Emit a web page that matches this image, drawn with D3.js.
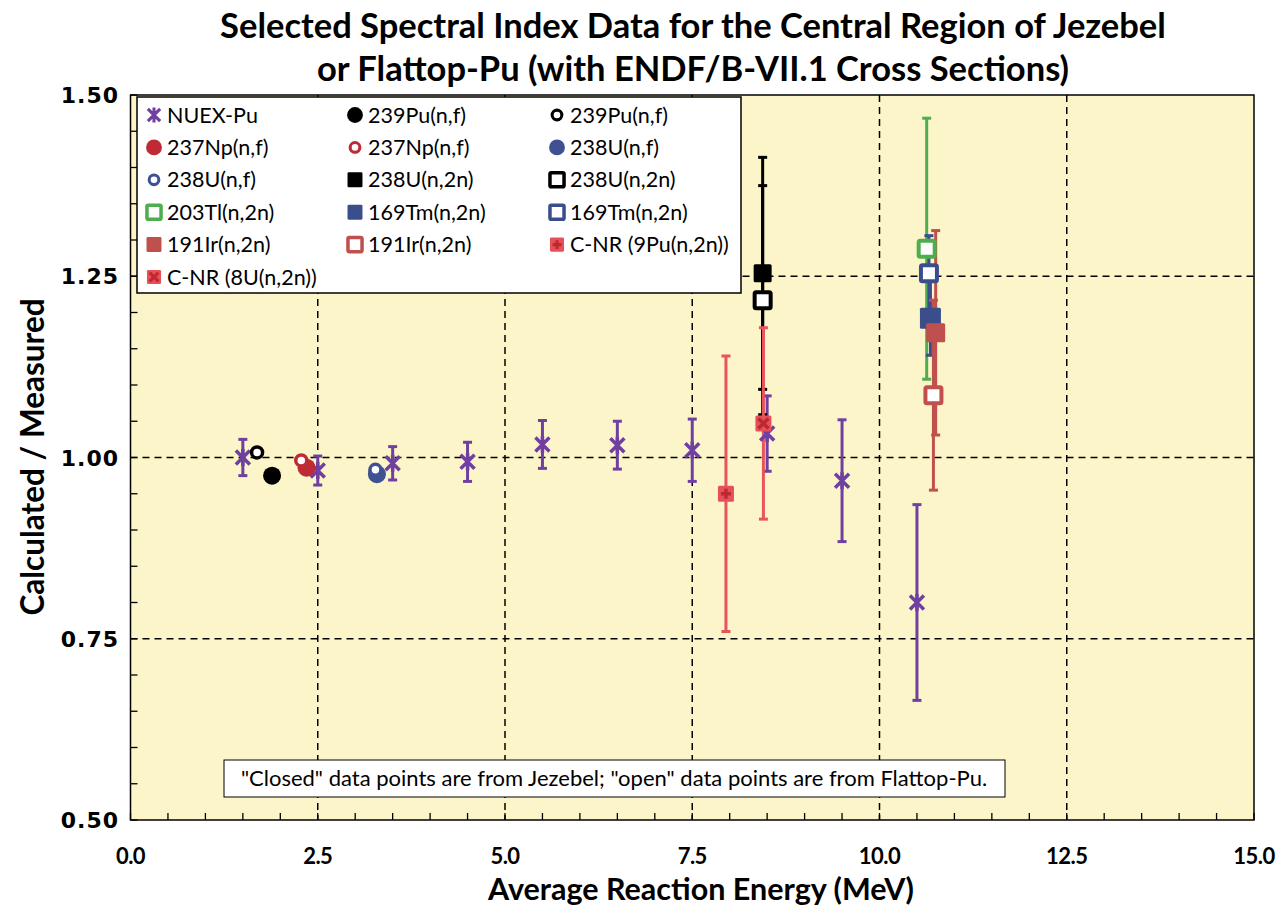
<!DOCTYPE html>
<html>
<head>
<meta charset="utf-8">
<script src="https://cdn.jsdelivr.net/npm/d3@7"></script>
<style>
	body { margin: 0; background: #fff; }
	svg { display: block; }
</style>
</head>
<body>
<svg id="chart"></svg>
<script>
/* global d3 */

// NUEX-Pu series (purple asterisks with error bars).
const nuexEnergy = [ 1.5, 2.5, 3.5, 4.5, 5.5, 6.5, 7.5, 8.5, 9.5, 10.5 ];
const nuexRatio = [ 1.000, 0.982, 0.992, 0.994, 1.018, 1.017, 1.010, 1.033, 0.968, 0.800 ];
const nuexError = [ 0.025, 0.020, 0.023, 0.027, 0.033, 0.033, 0.043, 0.052, 0.084, 0.135 ];

// Single-point series, in legend order (after NUEX-Pu).
const pointLabels = [
	'239Pu(n,f)', '239Pu(n,f)', '237Np(n,f)', '237Np(n,f)', '238U(n,f)',
	'238U(n,f)', '238U(n,2n)', '238U(n,2n)', '203Tl(n,2n)', '169Tm(n,2n)',
	'169Tm(n,2n)', '191Ir(n,2n)', '191Ir(n,2n)', 'C-NR (9Pu(n,2n))', 'C-NR (8U(n,2n))',
];
const pointEnergy = [ 1.89, 1.69, 2.35, 2.28, 3.29, 3.27, 8.44, 8.44, 10.63, 10.68, 10.66, 10.75, 10.72, 7.95, 8.45 ];
const pointRatio = [ 0.975, 1.007, 0.986, 0.996, 0.977, 0.983, 1.254, 1.217, 1.288, 1.192, 1.254, 1.172, 1.086, 0.950, 1.047 ];
const pointError = [ 0, 0, 0, 0, 0, 0, 0.160, 0.158, 0.180, 0.051, 0.052, 0.141, 0.131, 0.190, 0.132 ];

const xTicks = [ 0, 2.5, 5, 7.5, 10, 12.5, 15 ];
const yTicks = [ 0.5, 0.75, 1.0, 1.25, 1.5 ];

const titleLines = [
	'Selected Spectral Index Data for the Central Region of Jezebel',
	'or Flattop-Pu (with ENDF/B-VII.1 Cross Sections)',
];
const noteText = '"Closed" data points are from Jezebel; "open" data points are from Flattop-Pu.';

// Marker styles, matched by index to the point arrays.
const pointStyles = [
	{ shape: 'circle', color: '#000000' },
	{ shape: 'ring', color: '#000000' },
	{ shape: 'circle', color: '#be2b34' },
	{ shape: 'ring', color: '#be2b34' },
	{ shape: 'circle', color: '#3f5193' },
	{ shape: 'ring', color: '#3f5193' },
	{ shape: 'square', color: '#000000', size: 18 },
	{ shape: 'openSquare', color: '#000000' },
	{ shape: 'openSquare', color: '#4cae4c' },
	{ shape: 'square', color: '#3b4e8c', size: 21 },
	{ shape: 'openSquare', color: '#3b4e8c' },
	{ shape: 'square', color: '#c0504d', size: 19 },
	{ shape: 'openSquare', color: '#c0504d' },
	{ shape: 'plusSquare', color: '#e5505a', mark: '#c0282f', bar: '#e8545c' },
	{ shape: 'crossSquare', color: '#e5505a', mark: '#c0282f', bar: '#e8545c' },
];
const nuexColor = '#7040a0';

/**
 * Spectral index scatter chart
 */
class SpectralIndexChart {
	/**
	 * @param {string} selector - SVG selector
	 */
	constructor( selector ) {
		this.selector = selector;
		this.config = {
			width: 1281,
			height: 909,
			plot: { left: 130.5, right: 1254, top: 95, bottom: 820 },
		};

		this.initializeChart();
	}

	/**
	 * Initialize the chart
	 */
	initializeChart() {
		const { width, height, plot } = this.config;

		this.svg = d3.select( this.selector )
			.attr( 'width', width )
			.attr( 'height', height );

		this.xScale = d3.scaleLinear().domain( [ 0, 15 ] ).range( [ plot.left, plot.right ] );
		this.yScale = d3.scaleLinear().domain( [ 0.5, 1.5 ] ).range( [ plot.bottom, plot.top ] );

		this.renderFrame();
		this.renderData();
		this.renderLegend();
		this.renderText();
	}

	/**
	 * Background, grid, ticks and tick labels
	 */
	renderFrame() {
		const { plot } = this.config;
		const x = this.xScale;
		const y = this.yScale;

		this.svg.append( 'rect' )
			.attr( 'x', plot.left )
			.attr( 'y', plot.top )
			.attr( 'width', plot.right - plot.left )
			.attr( 'height', plot.bottom - plot.top )
			.attr( 'fill', '#fcf5c9' );

		const grid = this.svg.append( 'g' )
			.attr( 'stroke', '#000' )
			.attr( 'stroke-width', 1.5 )
			.attr( 'stroke-dasharray', '7,5' );

		grid.selectAll( 'line.vgrid' )
			.data( xTicks.slice( 1, -1 ) )
			.enter()
			.append( 'line' )
			.attr( 'x1', ( d ) => x( d ) )
			.attr( 'x2', ( d ) => x( d ) )
			.attr( 'y1', plot.top )
			.attr( 'y2', plot.bottom );

		grid.selectAll( 'line.hgrid' )
			.data( yTicks.slice( 1, -1 ) )
			.enter()
			.append( 'line' )
			.attr( 'y1', ( d ) => y( d ) )
			.attr( 'y2', ( d ) => y( d ) )
			.attr( 'x1', plot.left )
			.attr( 'x2', plot.right );

		// minor ticks point inward
		const xMinor = d3.range( 0, 15.001, 0.5 );
		const yMinor = d3.range( 0.5, 1.5001, 0.05 );

		const ticks = this.svg.append( 'g' )
			.attr( 'stroke', '#000' )
			.attr( 'stroke-width', 1.3 );

		ticks.selectAll( 'line.xt' )
			.data( xMinor )
			.enter()
			.append( 'line' )
			.attr( 'x1', ( d ) => x( d ) )
			.attr( 'x2', ( d ) => x( d ) )
			.attr( 'y1', plot.bottom )
			.attr( 'y2', plot.bottom - 7 );

		ticks.selectAll( 'line.yt' )
			.data( yMinor )
			.enter()
			.append( 'line' )
			.attr( 'y1', ( d ) => y( d ) )
			.attr( 'y2', ( d ) => y( d ) )
			.attr( 'x1', plot.left )
			.attr( 'x2', plot.left + 7 );

		this.svg.append( 'rect' )
			.attr( 'x', plot.left )
			.attr( 'y', plot.top )
			.attr( 'width', plot.right - plot.left )
			.attr( 'height', plot.bottom - plot.top )
			.attr( 'fill', 'none' )
			.attr( 'stroke', '#000' )
			.attr( 'stroke-width', 1.5 );

		this.svg.append( 'g' )
			.selectAll( 'text' )
			.data( xTicks )
			.enter()
			.append( 'text' )
			.attr( 'x', ( d ) => x( d ) )
			.attr( 'y', 864 )
			.attr( 'text-anchor', 'middle' )
			.style( 'font', 'bold 22px Lato, sans-serif' )
			.style( 'letter-spacing', '-0.5px' )
			.text( d3.format( '.1f' ) );

		this.svg.append( 'g' )
			.selectAll( 'text' )
			.data( yTicks )
			.enter()
			.append( 'text' )
			.attr( 'x', 119 )
			.attr( 'y', ( d ) => y( d ) + 8 )
			.attr( 'text-anchor', 'end' )
			.style( 'font', 'bold 22px "DejaVu Sans", sans-serif' )
			.style( 'letter-spacing', '1px' )
			.text( d3.format( '.2f' ) );
	}

	/**
	 * Draw one marker
	 *
	 * @param {Object} g     - D3 selection to append into
	 * @param {Object} style - Marker style
	 * @param {number} cx    - Centre x
	 * @param {number} cy    - Centre y
	 * @param {number} k     - Scale factor
	 */
	drawMarker( g, style, cx, cy, k = 1 ) {
		const m = g.append( 'g' ).attr( 'transform', `translate(${ cx },${ cy }) scale(${ k })` );

		if ( style.shape === 'star' ) {
			m.append( 'path' )
				.attr( 'd', 'M-7,-7L7,7M-7,7L7,-7M0,-8.5L0,8.5' )
				.attr( 'stroke', style.color )
				.attr( 'stroke-width', 3.5 )
				.attr( 'fill', 'none' );
		} else if ( style.shape === 'circle' ) {
			m.append( 'circle' ).attr( 'r', 9 ).attr( 'fill', style.color );
		} else if ( style.shape === 'ring' ) {
			m.append( 'circle' )
				.attr( 'r', 5.5 )
				.attr( 'fill', '#fff' )
				.attr( 'stroke', style.color )
				.attr( 'stroke-width', 3.5 );
		} else if ( style.shape === 'square' ) {
			const s = style.size || 18;
			m.append( 'rect' )
				.attr( 'x', -s / 2 ).attr( 'y', -s / 2 )
				.attr( 'width', s ).attr( 'height', s )
				.attr( 'rx', 1.5 )
				.attr( 'fill', style.color );
		} else if ( style.shape === 'openSquare' ) {
			m.append( 'rect' )
				.attr( 'x', -8 ).attr( 'y', -8 )
				.attr( 'width', 16 ).attr( 'height', 16 )
				.attr( 'rx', 1.5 )
				.attr( 'fill', '#fff' )
				.attr( 'stroke', style.color )
				.attr( 'stroke-width', 4 );
		} else {
			m.append( 'rect' )
				.attr( 'x', -8 ).attr( 'y', -8 )
				.attr( 'width', 16 ).attr( 'height', 16 )
				.attr( 'rx', 1.5 )
				.attr( 'fill', style.color );
			m.append( 'path' )
				.attr( 'd', style.shape === 'plusSquare' ? 'M-5,0L5,0M0,-5L0,5' : 'M-5,-5L5,5M-5,5L5,-5' )
				.attr( 'stroke', style.mark )
				.attr( 'stroke-width', 3.5 )
				.attr( 'fill', 'none' );
		}
	}

	/**
	 * Draw an error bar with caps
	 *
	 * @param {Object} g     - D3 selection
	 * @param {number} e     - Energy
	 * @param {number} v     - Ratio
	 * @param {number} err   - Error half-width
	 * @param {string} color - Stroke colour
	 */
	drawErrorBar( g, e, v, err, color ) {
		const x = this.xScale( e );
		const y1 = this.yScale( v + err );
		const y2 = this.yScale( v - err );
		const bar = g.append( 'g' ).attr( 'stroke', color ).attr( 'stroke-width', 3 );
		bar.append( 'line' ).attr( 'x1', x ).attr( 'x2', x ).attr( 'y1', y1 ).attr( 'y2', y2 );
		bar.append( 'line' ).attr( 'x1', x - 4.5 ).attr( 'x2', x + 4.5 ).attr( 'y1', y1 ).attr( 'y2', y1 );
		bar.append( 'line' ).attr( 'x1', x - 4.5 ).attr( 'x2', x + 4.5 ).attr( 'y1', y2 ).attr( 'y2', y2 );
	}

	/**
	 * Render error bars, then markers
	 */
	renderData() {
		const bars = this.svg.append( 'g' ).attr( 'class', 'error-bars' );
		const marks = this.svg.append( 'g' ).attr( 'class', 'markers' );

		nuexEnergy.forEach( ( e, i ) => {
			this.drawErrorBar( bars, e, nuexRatio[ i ], nuexError[ i ], nuexColor );
		} );
		pointEnergy.forEach( ( e, i ) => {
			if ( pointError[ i ] > 0 ) {
				const style = pointStyles[ i ];
				this.drawErrorBar( bars, e, pointRatio[ i ], pointError[ i ], style.bar || style.color );
			}
		} );

		nuexEnergy.forEach( ( e, i ) => {
			this.drawMarker( marks, { shape: 'star', color: nuexColor }, this.xScale( e ), this.yScale( nuexRatio[ i ] ) );
		} );
		pointEnergy.forEach( ( e, i ) => {
			this.drawMarker( marks, pointStyles[ i ], this.xScale( e ), this.yScale( pointRatio[ i ] ) );
		} );
	}

	/**
	 * Render legend box
	 */
	renderLegend() {
		const box = { x: 137, y: 97, w: 604, h: 196 };
		const colX = [ 154, 355, 557 ];
		const rowY0 = 115;
		const rowStep = 32.4;

		const legend = this.svg.append( 'g' ).attr( 'class', 'legend' );
		legend.append( 'rect' )
			.attr( 'x', box.x ).attr( 'y', box.y )
			.attr( 'width', box.w ).attr( 'height', box.h )
			.attr( 'fill', '#fff' )
			.attr( 'stroke', '#000' )
			.attr( 'stroke-width', 1.5 );

		const items = [ { label: 'NUEX-Pu', style: { shape: 'star', color: nuexColor } } ]
			.concat( pointLabels.map( ( label, i ) => ( { label, style: pointStyles[ i ] } ) ) );

		items.forEach( ( item, i ) => {
			const cx = colX[ i % 3 ];
			const cy = rowY0 + Math.floor( i / 3 ) * rowStep;
			const style = Object.assign( {}, item.style );
			if ( style.shape === 'square' ) {
				style.size = 17;
			}
			this.drawMarker( legend, style, cx, cy, 0.88 );
			legend.append( 'text' )
				.attr( 'x', cx + 13 )
				.attr( 'y', cy + 7.5 )
				.style( 'font', '21.5px Lato, sans-serif' )
				.text( item.label );
		} );
	}

	/**
	 * Titles and note box
	 */
	renderText() {
		this.svg.append( 'g' )
			.selectAll( 'text' )
			.data( titleLines )
			.enter()
			.append( 'text' )
			.attr( 'x', 693 )
			.attr( 'y', ( d, i ) => 38 + ( i * 43 ) )
			.attr( 'text-anchor', 'middle' )
			.style( 'font', 'bold 34.5px Lato, sans-serif' )
			.text( ( d ) => d );

		this.svg.append( 'text' )
			.attr( 'x', 701 )
			.attr( 'y', 900 )
			.attr( 'text-anchor', 'middle' )
			.style( 'font', 'bold 30.5px Lato, sans-serif' )
			.text( 'Average Reaction Energy (MeV)' );

		this.svg.append( 'text' )
			.attr( 'transform', 'translate(44,457) rotate(-90)' )
			.attr( 'text-anchor', 'middle' )
			.style( 'font', 'bold 31.5px Lato, sans-serif' )
			.text( 'Calculated / Measured' );

		this.svg.append( 'rect' )
			.attr( 'x', 224 ).attr( 'y', 760 )
			.attr( 'width', 781 ).attr( 'height', 37 )
			.attr( 'fill', '#fff' )
			.attr( 'stroke', '#000' )
			.attr( 'stroke-width', 1 );

		this.svg.append( 'text' )
			.attr( 'x', 614 )
			.attr( 'y', 786 )
			.attr( 'text-anchor', 'middle' )
			.style( 'font', '22px Lato, sans-serif' )
			.text( noteText );
	}
}

new SpectralIndexChart( '#chart' );
</script>
</body>
</html>
